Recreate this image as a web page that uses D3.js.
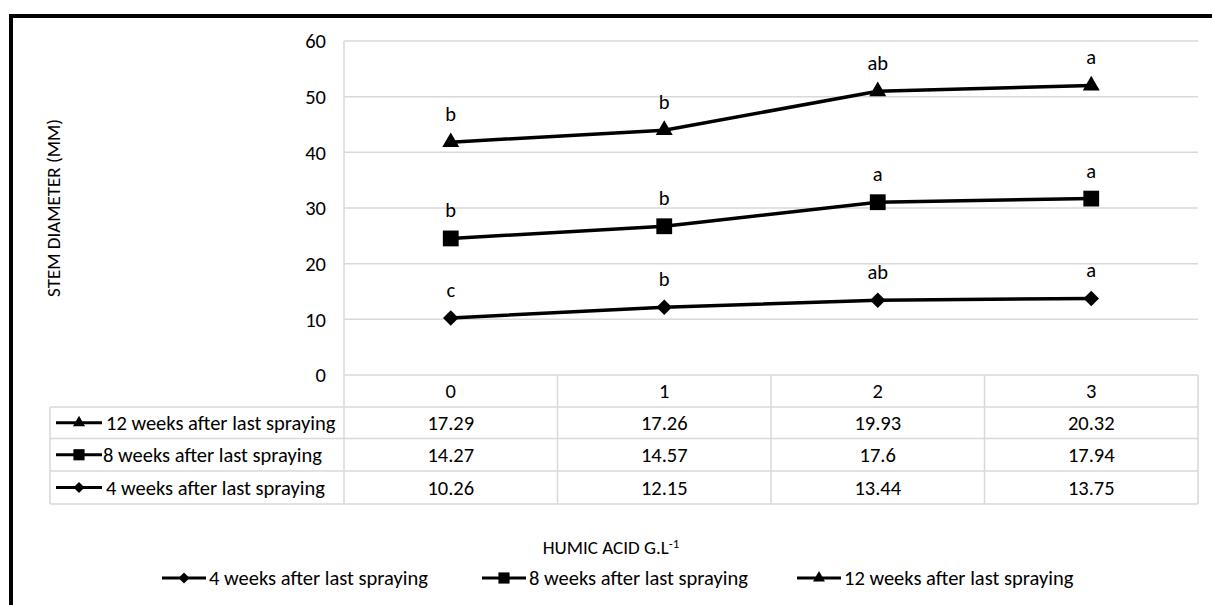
<!DOCTYPE html>
<html>
<head>
<meta charset="utf-8">
<script src="https://cdn.jsdelivr.net/npm/d3@7"></script>
<style>
  body { margin: 0; background: #fff; }
  text { font-family: Carlito, "Liberation Sans", Arial, sans-serif; fill: #000; }
</style>
</head>
<body>
<div id="chart"></div>
<script>
// values as shown in the data table (series are stacked in the plot)
const categories = ["0", "1", "2", "3"];
const week4 = [10.26, 12.15, 13.44, 13.75];
const week8 = [14.27, 14.57, 17.6, 17.94];
const week12 = [17.29, 17.26, 19.93, 20.32];
const letters4 = ["c", "b", "ab", "a"];
const letters8 = ["b", "b", "a", "a"];
const letters12 = ["b", "b", "ab", "a"];
const seriesNames = ["4 weeks after last spraying", "8 weeks after last spraying", "12 weeks after last spraying"];
const yTicks = [0, 10, 20, 30, 40, 50, 60];

const w = 1212, h = 605;
const plot = {left: 344, right: 1198, top: 41, bottom: 375};
const fs = "20.5px";

const svg = d3.select("#chart").append("svg").attr("width", w).attr("height", h);

// outer frame (thick black, only left and top visible)
svg.append("rect")
    .attr("x", 11).attr("y", 16)
    .attr("width", w + 20).attr("height", h + 20)
    .attr("fill", "none").attr("stroke", "#000").attr("stroke-width", 4);

const x = d3.scaleBand().domain(categories).range([plot.left, plot.right]);
const y = d3.scaleLinear().domain([0, 60]).range([plot.bottom, plot.top]);

// gridlines
svg.append("g").selectAll("line")
    .data(yTicks)
    .enter().append("line")
    .attr("x1", plot.left).attr("x2", plot.right)
    .attr("y1", d => y(d)).attr("y2", d => y(d))
    .attr("stroke", "#d9d9d9").attr("stroke-width", 1.5);

svg.append("line")
    .attr("x1", plot.left).attr("x2", plot.left)
    .attr("y1", plot.top).attr("y2", plot.bottom)
    .attr("stroke", "#d9d9d9").attr("stroke-width", 1.5);

// y tick labels
svg.append("g").selectAll("text")
    .data(yTicks)
    .enter().append("text")
    .attr("x", 326).attr("y", d => y(d))
    .attr("dy", "0.35em")
    .attr("text-anchor", "end")
    .style("font-size", fs)
    .text(d => d);

// y title
svg.append("text")
    .attr("transform", `translate(53,${(plot.top + plot.bottom) / 2}) rotate(-90)`)
    .attr("text-anchor", "middle")
    .attr("dy", "0.35em")
    .style("font-size", "19px")
    .text("STEM DIAMETER (MM)");

// stacked series
const rows = categories.map((c, i) => ({cat: c, w4: week4[i], w8: week8[i], w12: week12[i]}));
const stack = d3.stack().keys(["w4", "w8", "w12"]);
const layers = stack(rows);
const letters = [letters4, letters8, letters12];
const shapes = [d3.symbolSquare, d3.symbolSquare, d3.symbolTriangle];
const sizes = [120, 250, 125];
const rotate = [45, 0, 0];

const line = d3.line()
    .x(d => x(d.data.cat) + x.bandwidth() / 2)
    .y(d => y(d[1]));

layers.forEach((layer, k) => {
    svg.append("path")
        .datum(layer)
        .attr("d", line)
        .attr("fill", "none")
        .attr("stroke", "#000")
        .attr("stroke-width", 3.5);

    svg.append("g").selectAll("path")
        .data(layer)
        .enter().append("path")
        .attr("d", d3.symbol().type(shapes[k]).size(sizes[k]))
        .attr("transform", d => `translate(${x(d.data.cat) + x.bandwidth() / 2},${y(d[1])}) rotate(${rotate[k]})`)
        .attr("fill", "#000");

    svg.append("g").selectAll("text")
        .data(layer)
        .enter().append("text")
        .attr("x", d => x(d.data.cat) + x.bandwidth() / 2)
        .attr("y", d => y(d[1]) - 21)
        .attr("text-anchor", "middle")
        .style("font-size", fs)
        .text((d, i) => letters[k][i]);
});

// data table
const tblLeft = 50;
const rowY = [375, 407, 438.5, 471, 504];
const tg = svg.append("g").attr("stroke", "#d9d9d9").attr("stroke-width", 1.5);

rowY.slice(1).forEach(ry => {
    tg.append("line").attr("x1", tblLeft).attr("x2", plot.right).attr("y1", ry).attr("y2", ry);
});
tg.append("line").attr("x1", tblLeft).attr("x2", tblLeft).attr("y1", rowY[1]).attr("y2", rowY[4]);
categories.forEach(c => {
    tg.append("line").attr("x1", x(c)).attr("x2", x(c)).attr("y1", plot.bottom).attr("y2", rowY[4]);
});
tg.append("line").attr("x1", plot.right).attr("x2", plot.right).attr("y1", plot.bottom).attr("y2", rowY[4]);

// header: categories
svg.append("g").selectAll("text")
    .data(categories)
    .enter().append("text")
    .attr("x", d => x(d) + x.bandwidth() / 2)
    .attr("y", (rowY[0] + rowY[1]) / 2)
    .attr("dy", "0.35em")
    .attr("text-anchor", "middle")
    .style("font-size", fs)
    .text(d => d);

function legendKey(g, k, x0, cy, len) {
    g.append("line")
        .attr("x1", x0).attr("x2", x0 + len)
        .attr("y1", cy).attr("y2", cy)
        .attr("stroke", "#000").attr("stroke-width", 3.2);
    g.append("path")
        .attr("d", d3.symbol().type(shapes[k]).size(sizes[k] * 0.5))
        .attr("transform", `translate(${x0 + len / 2},${cy}) rotate(${rotate[k]})`)
        .attr("fill", "#000");
}

// table rows: 12, 8, 4 weeks from top
const tableOrder = [2, 1, 0];
const tableVals = [week4, week8, week12];
tableOrder.forEach((k, r) => {
    const cy = (rowY[r + 1] + rowY[r + 2]) / 2;
    legendKey(svg, k, 56, cy, 46);
    svg.append("text")
        .attr("x", k === 1 ? 103 : 106).attr("y", cy)
        .attr("dy", "0.35em")
        .style("font-size", fs)
        .text(seriesNames[k]);
    svg.append("g").selectAll("text")
        .data(tableVals[k])
        .enter().append("text")
        .attr("x", (d, i) => x(categories[i]) + x.bandwidth() / 2)
        .attr("y", cy)
        .attr("dy", "0.35em")
        .attr("text-anchor", "middle")
        .style("font-size", fs)
        .text(d => d);
});

// x title
const xt = svg.append("text")
    .attr("x", 611).attr("y", 547)
    .attr("dy", "0.35em")
    .attr("text-anchor", "middle")
    .style("font-size", "19px");
xt.append("tspan").text("HUMIC ACID G.L");
xt.append("tspan").attr("dy", "-0.45em").style("font-size", "13px").text("-1");

// bottom legend
const legX = [162, 482, 797];
seriesNames.forEach((name, k) => {
    legendKey(svg, k, legX[k], 578, 44);
    svg.append("text")
        .attr("x", legX[k] + 47).attr("y", 578)
        .attr("dy", "0.35em")
        .style("font-size", fs)
        .text(name);
});
</script>
</body>
</html>
